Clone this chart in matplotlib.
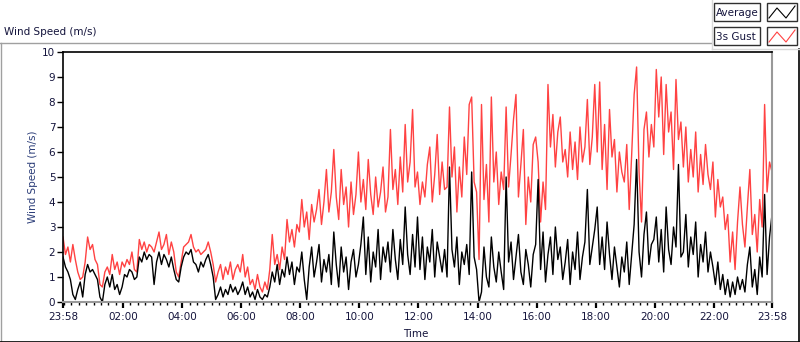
import numpy as np
import matplotlib
matplotlib.use("Agg")
import matplotlib.pyplot as plt
from matplotlib.patches import Rectangle
from matplotlib.lines import Line2D

# wind speed (m/s), one sample every 5 minutes starting 23:58, one row per hour
gust = [
    2.6, 1.9, 2.2, 1.6, 2.3, 1.7, 1.2, 0.9, 1.0, 1.6, 2.6, 2.1,
    2.3, 1.7, 1.5, 0.7, 0.6, 1.2, 1.4, 1.1, 1.9, 1.3, 1.6, 1.1,
    1.6, 1.4, 1.7, 1.5, 2.0, 1.3, 1.2, 2.5, 2.1, 2.4, 2.0, 2.3,
    2.2, 2.0, 2.4, 2.8, 2.1, 2.3, 2.7, 1.9, 2.4, 2.0, 1.2, 1.0,
    1.6, 2.2, 2.3, 2.4, 2.7, 2.2, 2.0, 2.1, 1.9, 2.0, 2.1, 2.4,
    2.0, 1.5, 0.8, 1.2, 1.5, 0.9, 1.4, 1.1, 1.6, 0.9, 1.3, 1.5,
    1.2, 1.9, 1.0, 1.4, 0.7, 0.9, 0.5, 1.1, 0.6, 0.4, 0.8, 0.5,
    1.3, 2.7, 1.5, 1.9, 1.3, 2.2, 1.7, 3.3, 2.4, 2.9, 2.2, 3.1,
    2.8, 4.1, 3.0, 3.6, 2.5, 3.9, 3.2, 3.7, 4.5, 3.1, 4.0, 5.3,
    3.6, 4.4, 6.1, 4.2, 3.3, 5.3, 3.9, 4.6, 3.0, 4.8, 3.5, 4.3,
    6.0, 4.0, 4.9, 3.7, 5.7, 4.3, 3.5, 5.0, 3.8, 4.4, 5.4, 3.6,
    4.2, 6.9, 4.5, 5.3, 3.9, 5.8, 4.4, 7.1, 4.8, 5.6, 7.7, 4.6,
    5.2, 3.9, 4.8, 4.2, 5.5, 6.2, 4.0, 5.1, 6.7, 4.3, 5.6, 4.5,
    4.6, 7.8, 5.0, 6.2, 3.6, 5.4, 4.2, 6.6, 5.1, 7.9, 8.2, 4.8,
    4.4, 1.7, 7.9, 4.1, 5.5, 3.2, 8.2, 4.8, 6.0, 3.9, 5.2, 4.5,
    7.8, 4.6, 5.9, 7.3, 8.3, 4.2, 5.5, 6.9, 3.1, 5.0, 4.0, 6.3,
    6.6, 5.6, 3.2, 4.8, 3.7, 8.7, 6.2, 7.5, 5.4, 6.8, 7.4, 5.6,
    6.1, 5.0, 6.8, 5.3, 6.4, 4.9, 7.0, 5.6, 6.2, 8.1, 5.5, 6.6,
    8.7, 6.0, 8.8, 5.3, 7.1, 4.5, 7.7, 5.8, 6.5, 4.4, 6.0, 5.2,
    4.8, 6.3, 3.7, 5.9, 8.3, 9.4, 5.2, 3.2, 6.9, 7.6, 5.8, 7.1,
    6.2, 9.3, 7.4, 9.0, 5.9, 8.7, 6.8, 7.6, 5.3, 8.9, 6.5, 7.2,
    5.4, 7.0, 4.8, 6.1, 5.0, 6.8, 4.4, 5.9, 4.7, 6.3, 5.1, 4.5,
    5.6, 3.4, 4.9, 3.8, 4.2, 2.9, 3.5, 1.6, 2.8, 1.3, 3.2, 4.6,
    3.1, 2.2, 3.8, 5.3, 2.7, 3.5, 2.0, 4.1, 3.0, 7.9, 4.4, 5.6, 5.2,
]
average = [
    1.8, 1.4, 1.2, 0.9, 0.3, 0.1, 0.5, 0.8, 0.2, 1.1, 1.5, 1.2,
    1.3, 1.1, 0.9, 0.2, 0.0, 0.7, 1.0, 0.6, 1.1, 0.5, 0.7, 0.3,
    0.6, 1.1, 1.0, 1.3, 1.2, 0.9, 1.0, 1.8, 1.6, 2.0, 1.7, 1.9,
    1.8, 0.7, 1.6, 2.0, 1.5, 1.9, 1.7, 1.4, 1.8, 1.3, 0.9, 0.8,
    1.4, 1.8, 2.0, 1.9, 2.1, 1.6, 1.5, 1.2, 1.6, 1.4, 1.7, 1.9,
    1.5, 1.0, 0.1, 0.3, 0.6, 0.2, 0.5, 0.3, 0.7, 0.4, 0.6, 0.3,
    0.5, 0.8, 0.3, 0.6, 0.2, 0.4, 0.1, 0.5, 0.2, 0.1, 0.3, 0.2,
    0.6, 1.2, 0.8, 1.5, 0.7, 1.3, 1.0, 1.8, 1.1, 1.6, 0.7, 1.4,
    1.2, 2.0, 0.9, 0.1, 1.4, 2.2, 1.0, 1.6, 2.3, 0.8, 1.7, 1.2,
    1.9, 0.7, 2.8, 1.5, 0.6, 2.2, 1.2, 1.8, 0.5, 1.6, 2.1, 1.0,
    1.5, 2.3, 3.4, 1.1, 2.6, 0.8, 2.0, 1.4, 2.9, 0.9, 2.2, 1.6,
    2.4, 1.2, 2.9, 1.7, 0.9, 2.5, 1.5, 3.8, 1.9, 1.1, 2.7, 1.4,
    3.4, 1.3, 2.6, 0.9, 2.2, 1.6, 2.9, 1.0, 2.4, 1.8, 1.2, 2.1,
    1.0, 5.4, 2.1, 1.4, 2.6, 0.7, 2.0, 1.5, 2.3, 1.1, 5.2, 1.8,
    1.3, 0.0, 0.4, 2.2, 1.0, 0.6, 2.6, 1.4, 0.8, 2.0, 1.2, 0.5,
    5.0, 1.6, 2.4, 0.9, 1.8, 2.7, 1.2, 0.7, 2.1, 1.5, 0.6, 1.9,
    2.3, 4.9, 1.3, 2.8, 0.8, 1.9, 2.6, 1.1, 3.0, 1.7, 2.2, 0.9,
    1.6, 2.5, 0.7, 2.0, 1.3, 2.8, 0.9, 1.8, 2.4, 4.5, 1.5, 2.2,
    2.9, 3.8, 1.5, 2.6, 1.3, 3.2, 1.9, 0.9, 2.2, 1.4, 0.6, 1.8,
    1.2, 2.4, 0.7, 1.9, 3.1, 5.7, 2.0, 1.0, 2.7, 3.6, 1.5, 2.3,
    2.5, 3.4, 1.6, 2.9, 1.2, 3.8, 2.1, 1.5, 3.0, 2.2, 5.5, 1.8,
    2.0, 3.5, 1.4, 2.6, 1.9, 3.2, 1.0, 2.3, 1.6, 2.8, 1.2, 2.0,
    1.4, 0.7, 1.6, 0.5, 1.1, 0.3, 0.9, 0.2, 0.8, 0.3, 1.0, 0.5,
    0.9, 0.4, 1.5, 2.2, 0.6, 1.3, 0.3, 1.8, 1.0, 4.3, 1.1, 2.6, 3.5,
]
tick_labels = ["23:58", "02:00", "04:00", "06:00", "08:00", "10:00", "12:00",
               "14:00", "16:00", "18:00", "20:00", "22:00", "23:58"]
start = 23 * 60 + 58
step = 5

minutes = np.arange(len(gust)) * step


def clock_to_min(s):
    h, m = map(int, s.split(":"))
    return (h * 60 + m - start) % 1440


major = [clock_to_min(s) for s in tick_labels[:-1]] + [1440]
# minor ticks every quarter hour of clock time
minor = [m + 2 for m in range(0, 1440, 15)]
minor = [m for m in minor if 0 < m < 1440 and m not in major]

W, H = 800, 342
fig = plt.figure(figsize=(W / 100, H / 100), dpi=100)
plt.rcParams["font.family"] = "DejaVu Sans"


def fx(x):
    return x / W


def fy(y):
    return 1 - y / H


txt = "#14143c"

# outer panel frame
fig.add_artist(Line2D([fx(0), fx(712)], [fy(42.5)] * 2, color="#a0a0a0", lw=1))
fig.add_artist(Line2D([fx(0.5)] * 2, [fy(42.5), fy(342)], color="#a0a0a0", lw=1))
fig.add_artist(Line2D([fx(0), fx(799)], [fy(341.5)] * 2, color="black", lw=1.2))
fig.add_artist(Line2D([fx(798.5)] * 2, [fy(49), fy(342)], color="black", lw=1.2))
fig.add_artist(Line2D([fx(712), fx(800)], [fy(49)] * 2, color="#d8d8d8", lw=1))
fig.add_artist(Line2D([fx(712)] * 2, [fy(0), fy(49)], color="#d8d8d8", lw=1))

fig.text(fx(4), fy(32), "Wind Speed (m/s)", fontsize=7.5, color=txt, va="center", ha="left")

ax = fig.add_axes([fx(63), fy(302), fx(772) - fx(63), fy(52) - fy(302)])
ax.plot(minutes, gust, color="#ff4242", lw=1)
ax.plot(minutes, average, color="black", lw=1)
ax.set_xlim(0, 1440)
ax.set_ylim(0, 10)
ax.set_yticks(range(0, 11))
ax.set_xticks(major)
ax.set_xticklabels(tick_labels)
ax.set_xticks(minor, minor=True)

ax.tick_params(axis="both", which="major", direction="out", length=4, width=1,
               colors="black", labelcolor=txt, labelsize=7.5)
ax.tick_params(axis="x", which="major", width=1.6, pad=3)
ax.tick_params(axis="y", which="major", pad=1.5)
ax.tick_params(axis="x", which="minor", direction="out", length=2.5, width=1, colors="black")

for side in ("top", "left"):
    ax.spines[side].set_color("black")
    ax.spines[side].set_linewidth(1.2)
for side in ("bottom", "right"):
    ax.spines[side].set_color("#999999")
    ax.spines[side].set_linewidth(1.5)

fig.text(fx(33), fy(177), "Wind Speed (m/s)", rotation=90, fontsize=7.5,
         color="#2a3c78", ha="center", va="center")
fig.text(fx(416), fy(334), "Time", fontsize=7.5, color=txt, ha="center", va="center")

# legend
for i, (name, col) in enumerate([("Average", "black"), ("3s Gust", "#ff4242")]):
    y0 = 3 + i * 24
    fig.add_artist(Rectangle((fx(714), fy(y0 + 18)), 46 / W, 18 / H, transform=fig.transFigure,
                             facecolor="white", edgecolor="#303030", lw=1))
    fig.add_artist(Rectangle((fx(767), fy(y0 + 18)), 30 / W, 18 / H, transform=fig.transFigure,
                             facecolor="white", edgecolor="#303030", lw=1))
    fig.text(fx(716), fy(y0 + 9.5), name, fontsize=7.5, color=txt, ha="left", va="center")
    zx = [769, 777, 786, 795]
    zy = [y0 + 15, y0 + 5, y0 + 15, y0 + 3]
    fig.add_artist(Line2D([fx(v) for v in zx], [fy(v) for v in zy], color=col, lw=0.8))

fig.savefig("out.png", dpi=100)
